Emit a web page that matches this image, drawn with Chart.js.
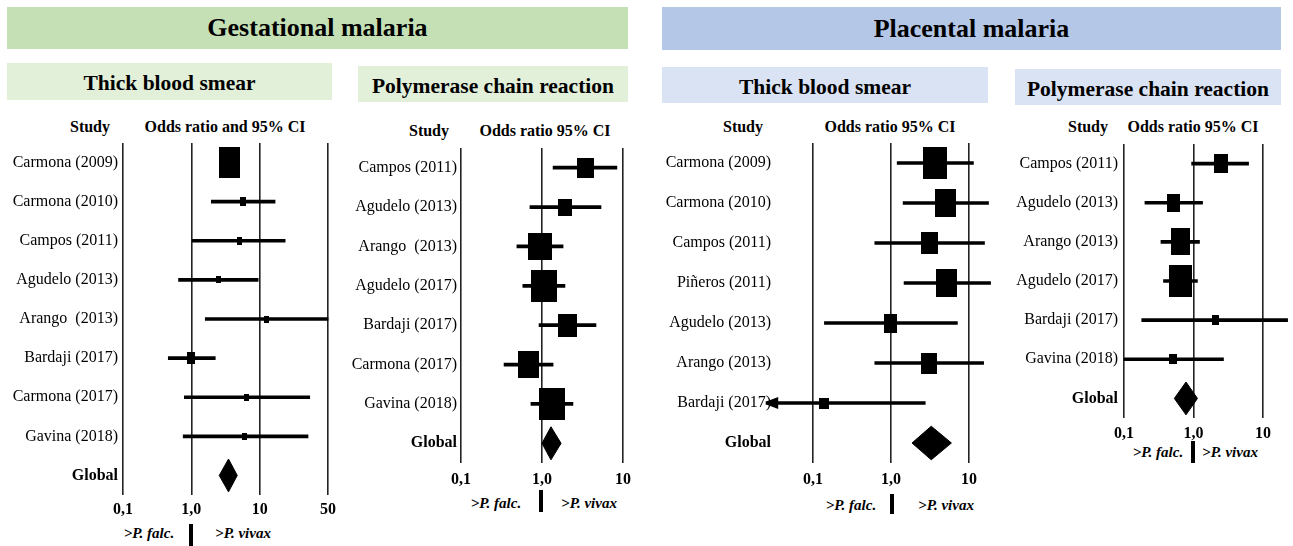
<!DOCTYPE html>
<html>
<head>
<meta charset="utf-8">
<script src="https://cdn.jsdelivr.net/npm/chart.js@4.4.1/dist/chart.umd.min.js"></script>
<style>
body{margin:0;width:1293px;height:546px;background:#fff;position:relative;overflow:hidden;font-family:'Liberation Serif','Times New Roman',serif;color:#000}
.box{position:absolute;display:flex;align-items:center;justify-content:center;font-weight:bold;box-sizing:border-box}
.sub{padding-top:4px}
.t{position:absolute;transform:translate(-50%,-50%);white-space:pre;font-weight:bold;font-size:16px}
.sp{position:absolute;transform:translate(-50%,-50%);white-space:nowrap;font-weight:bold;font-style:italic;font-size:15px}
.bar{position:absolute;background:#000;width:4px}
canvas{position:absolute}
</style>
</head>
<body>
<div class="box" style="left:7px;top:7px;width:621px;height:42px;background:#c5e0b4;font-size:26px">Gestational malaria</div>
<div class="box" style="left:662px;top:7px;width:619px;height:43px;background:#b4c7e7;font-size:26px">Placental malaria</div>
<div class="box sub" style="left:7px;top:63px;width:325px;height:37px;background:#e2f0d9;font-size:21.5px">Thick blood smear</div>
<div class="box sub" style="left:358px;top:66px;width:270px;height:36px;background:#e2f0d9;font-size:21.5px">Polymerase chain reaction</div>
<div class="box sub" style="left:662px;top:67px;width:326px;height:36px;background:#dae3f3;font-size:21.5px">Thick blood smear</div>
<div class="box sub" style="left:1015px;top:69px;width:266px;height:36px;background:#dae3f3;font-size:21.5px">Polymerase chain reaction</div>

<div class="t" style="left:90px;top:127px">Study</div>
<div class="t" style="left:225px;top:127px">Odds ratio and 95% CI</div>
<div class="t" style="left:429px;top:131px">Study</div>
<div class="t" style="left:545px;top:131px">Odds ratio 95% CI</div>
<div class="t" style="left:743px;top:127px">Study</div>
<div class="t" style="left:890px;top:127px">Odds ratio 95% CI</div>
<div class="t" style="left:1088px;top:127px">Study</div>
<div class="t" style="left:1193px;top:127px">Odds ratio 95% CI</div>

<div class="sp" style="left:149px;top:533px">&gt;P. falc.</div>
<div class="sp" style="left:243px;top:533px">&gt;P. vivax</div>
<div class="bar" style="left:189px;top:524px;height:22px"></div>
<div class="sp" style="left:496px;top:503px">&gt;P. falc.</div>
<div class="sp" style="left:589px;top:503px">&gt;P. vivax</div>
<div class="bar" style="left:539px;top:490px;height:22px"></div>
<div class="sp" style="left:851px;top:505px">&gt;P. falc.</div>
<div class="sp" style="left:946px;top:505px">&gt;P. vivax</div>
<div class="bar" style="left:890px;top:494px;height:20px"></div>
<div class="sp" style="left:1158px;top:452px">&gt;P. falc.</div>
<div class="sp" style="left:1230px;top:452px">&gt;P. vivax</div>
<div class="bar" style="left:1191px;top:441px;height:22px"></div>

<script>
// Gestational malaria - thick blood smear
const gTbsStudies = ['Carmona (2009)', 'Carmona (2010)', 'Campos (2011)', 'Agudelo (2013)', 'Arango  (2013)', 'Bardaji (2017)', 'Carmona (2017)', 'Gavina (2018)'];
const gTbsOR   = [3.6, 5.7, 5.0, 2.5, 12.4, 1.0, 6.4, 6.1];
const gTbsLow  = [2.8, 1.96, 1.03, 0.65, 1.6, 0.46, 0.79, 0.76];
const gTbsHigh = [4.6, 16.8, 23.6, 9.5, 100, 2.24, 54, 51];
const gTbsGlobal = [3.5, 2.56, 4.7];          // OR, low, high
const gTbsTicks = [0.1, 1, 10, 100];
const gTbsTickLabels = ['0,1', '1,0', '10', '50'];

// Gestational malaria - PCR
const gPcrStudies = ['Campos (2011)', 'Agudelo (2013)', 'Arango  (2013)', 'Agudelo (2017)', 'Bardaji (2017)', 'Carmona (2017)', 'Gavina (2018)'];
const gPcrOR   = [3.44, 1.92, 0.94, 1.06, 2.07, 0.68, 1.33];
const gPcrLow  = [1.37, 0.71, 0.49, 0.58, 0.92, 0.34, 0.73];
const gPcrHigh = [8.4, 5.35, 1.82, 1.92, 4.64, 1.37, 2.41];
const gPcrGlobal = [1.29, 1.0, 1.72];

// Placental malaria - thick blood smear
const pTbsStudies = ['Carmona (2009)', 'Carmona (2010)', 'Campos (2011)', 'Piñeros (2011)', 'Agudelo (2013)', 'Arango (2013)', 'Bardaji (2017)'];
const pTbsOR   = [3.7, 5.05, 3.14, 5.2, 0.99, 3.09, 0.14];
const pTbsLow  = [1.2, 1.43, 0.62, 1.47, 0.14, 0.62, 0.025];
const pTbsHigh = [11.4, 17.8, 15.8, 18.9, 7.1, 15.4, 2.75];
const pTbsGlobal = [3.28, 1.86, 5.95];

// Placental malaria - PCR
const pPcrStudies = ['Campos (2011)', 'Agudelo (2013)', 'Arango (2013)', 'Agudelo (2017)', 'Bardaji (2017)', 'Gavina (2018)'];
const pPcrOR   = [2.45, 0.52, 0.64, 0.66, 2.04, 0.5];
const pPcrLow  = [0.94, 0.2, 0.34, 0.37, 0.18, 0.1];
const pPcrHigh = [6.2, 1.35, 1.22, 1.14, 22.6, 2.7];
const pPcrGlobal = [0.78, 0.53, 1.14];

const stdTicks = [0.1, 1, 10];
const stdTickLabels = ['0,1', '1,0', '10'];

const FONT = "'Liberation Serif', 'Times New Roman', serif";
const PAD_T = 60, PAD_B = 30, XAXIS_H = 30;

function boxImage(w, h) {
  const c = document.createElement('canvas');
  c.width = w; c.height = h;
  const g = c.getContext('2d');
  g.fillStyle = '#000';
  g.fillRect(0, 0, w, h);
  return c;
}

function forest(p) {
  const n = p.studies.length;
  const labels = p.studies.concat(['Global']);
  const rows = labels.map((_, i) => i);
  const [gOr, gLo, gHi] = p.global;

  const cv = document.createElement('canvas');
  const top = p.top - PAD_T;
  cv.width = p.right - p.left;
  cv.height = p.bottom + PAD_B + XAXIS_H - top;
  cv.style.left = p.left + 'px';
  cv.style.top = top + 'px';
  document.body.appendChild(cv);

  const datasets = [
    {
      type: 'bar', indexAxis: 'y',
      data: p.studies.map((s, i) => ({ y: i, x: [p.low[i], p.high[i]] })),
      backgroundColor: '#000', barThickness: 3, clip: false, order: 3
    },
    {
      type: 'scatter',
      data: p.studies.map((s, i) => ({ x: p.or[i], y: i })),
      pointStyle: p.boxW.map((w, i) => boxImage(w, p.boxH[i])),
      pointRadius: 4, clip: false, order: 1
    },
    {
      type: 'line',
      data: [{ x: gLo, y: n }, { x: gOr, y: n - 0.42 }, { x: gHi, y: n }, { x: gOr, y: n + 0.42 }, { x: gLo, y: n }],
      borderColor: '#000', backgroundColor: '#000', borderWidth: 1,
      pointRadius: 0, fill: 'shape', tension: 0, order: 2
    }
  ];

  // arrow heads for intervals running past the left edge
  p.studies.forEach((s, i) => {
    if (p.low[i] < p.ticks[0]) {
      const lo = p.low[i];
      datasets.push({
        type: 'line',
        data: [{ x: lo * 1.05, y: i }, { x: lo * 1.35, y: i - 0.08 }, { x: lo * 1.35, y: i + 0.08 }, { x: lo * 1.05, y: i }],
        borderColor: '#000', backgroundColor: '#000', borderWidth: 4, borderJoinStyle: 'miter',
        pointRadius: 0, fill: 'shape', tension: 0, clip: false, order: 2
      });
    }
  });

  new Chart(cv, {
    type: 'scatter',
    data: { datasets: datasets },
    options: {
      responsive: false,
      animation: false,
      events: [],
      layout: { padding: { top: PAD_T, bottom: PAD_B, left: 0, right: p.right - p.axisRight } },
      plugins: { legend: { display: false }, tooltip: { enabled: false } },
      scales: {
        x: {
          type: 'logarithmic',
          min: p.ticks[0], max: p.ticks[p.ticks.length - 1],
          beginAtZero: false,
          afterBuildTicks: s => { s.ticks = p.ticks.map(v => ({ value: v })); },
          afterFit: s => { s.height = XAXIS_H; },
          grid: { color: '#222', lineWidth: 1.6, drawTicks: false },
          border: { display: false },
          ticks: {
            autoSkip: false, maxRotation: 0, padding: p.tickPad, color: '#000',
            font: { family: FONT, size: 16, weight: 'bold' },
            callback: (v, i) => p.tickLabels[i]
          }
        },
        y: {
          type: 'linear', reverse: true, offset: false,
          min: -0.5, max: n + 0.5,
          afterBuildTicks: s => { s.ticks = rows.map(v => ({ value: v })); },
          afterFit: s => { s.width = p.axisLeft - p.left; },
          grid: { display: false, drawTicks: false },
          border: { display: false },
          ticks: {
            autoSkip: false, padding: p.labelPad, color: '#000',
            font: ctx => ({ family: FONT, size: 16, weight: ctx.index === n ? 'bold' : 'normal' }),
            callback: v => labels[v]
          }
        }
      }
    }
  });
}

forest({
  studies: gTbsStudies, or: gTbsOR, low: gTbsLow, high: gTbsHigh, global: gTbsGlobal,
  ticks: gTbsTicks, tickLabels: gTbsTickLabels,
  boxW: [21, 6, 5, 5, 5, 8, 5, 5], boxH: [31, 9, 8, 7, 7, 12, 7, 7],
  left: 0, right: 348, axisLeft: 123, axisRight: 328, top: 143, bottom: 495, labelPad: 5, tickPad: 5
});
forest({
  studies: gPcrStudies, or: gPcrOR, low: gPcrLow, high: gPcrHigh, global: gPcrGlobal,
  ticks: stdTicks, tickLabels: stdTickLabels,
  boxW: [17, 14, 24, 26, 19, 21, 26], boxH: [20, 17, 27, 32, 23, 27, 32],
  left: 340, right: 645, axisLeft: 461, axisRight: 623, top: 148, bottom: 463, labelPad: 4, tickPad: 7
});
forest({
  studies: pTbsStudies, or: pTbsOR, low: pTbsLow, high: pTbsHigh, global: pTbsGlobal,
  ticks: stdTicks, tickLabels: stdTickLabels,
  boxW: [24, 21, 17, 21, 13, 16, 10], boxH: [32, 28, 22, 28, 19, 21, 11],
  left: 650, right: 995, axisLeft: 813, axisRight: 969, top: 143, bottom: 463, labelPad: 42, tickPad: 7
});
forest({
  studies: pPcrStudies, or: pPcrOR, low: pPcrLow, high: pPcrHigh, global: pPcrGlobal,
  ticks: stdTicks, tickLabels: stdTickLabels,
  boxW: [14, 13, 19, 23, 7, 8], boxH: [19, 18, 27, 32, 10, 10],
  left: 1000, right: 1293, axisLeft: 1124, axisRight: 1263, top: 144, bottom: 418, labelPad: 6, tickPad: 6
});
</script>
</body>
</html>
